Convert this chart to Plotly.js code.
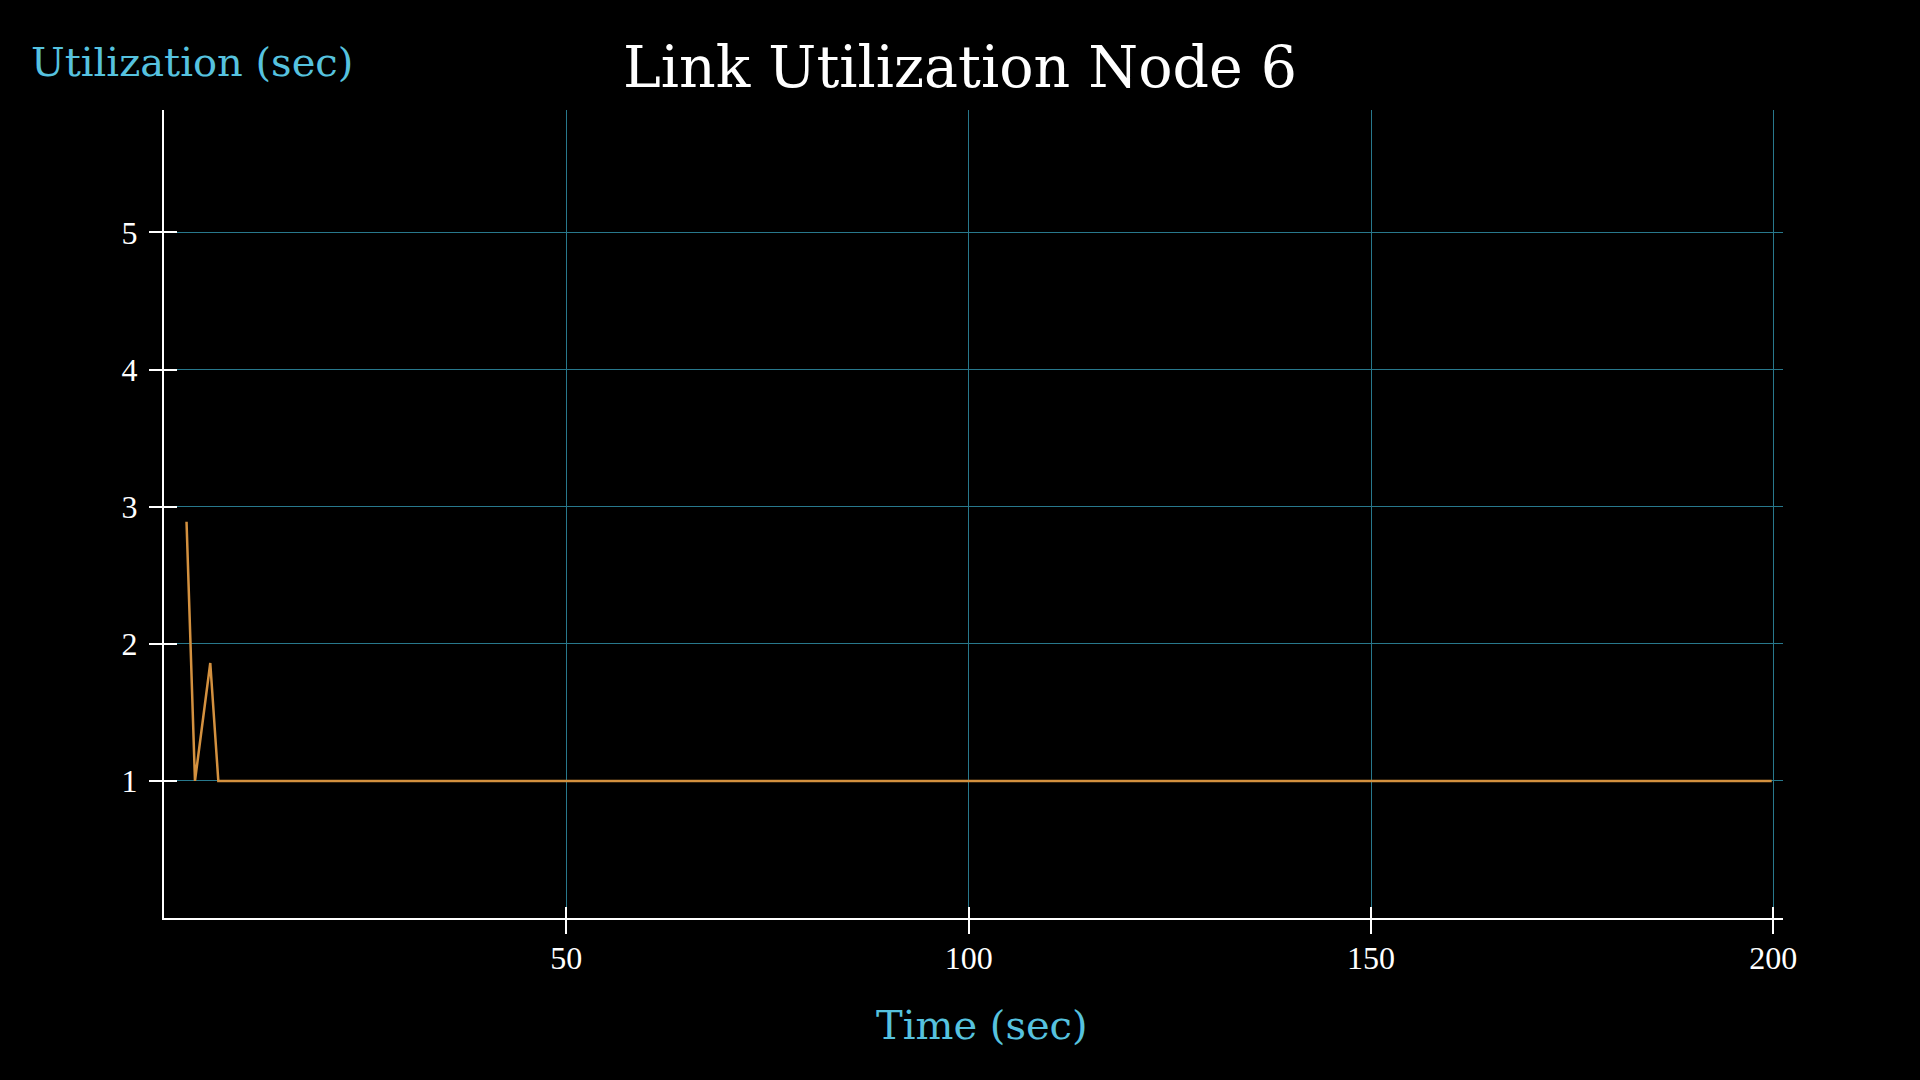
<!DOCTYPE html>
<html>
<head>
<meta charset="utf-8">
<script src="https://cdn.plot.ly/plotly-3.0.1.min.js"></script>
<style>html,body{margin:0;padding:0;background:#000;}#chart{width:1920px;height:1080px;}</style>
</head>
<body>
<div id="chart"></div>
<script>
// Data
const timeSec = [2.8, 3.85, 5.75, 6.75, 199.8];
const utilization = [2.89, 1, 1.86, 1, 1];
const xTickVals = [50, 100, 150, 200];
const xTickText = ["50", "100", "150", "200"];
const yTickVals = [1, 2, 3, 4, 5];
const yTickText = ["1", "2", "3", "4", "5"];
const chartTitle = "Link Utilization Node 6";
const xTitle = "Time (sec)";
const yTitle = "Utilization (sec)";

const xRange = [0, 201.2];
const yRange = [0, 5.893];
const gridColor = "#28788c";
const tickFont = {family: "Liberation Serif, serif", size: 32, color: "#ffffff"};
const titleColor = "#56c2df";

const traces = [
  {x: timeSec, y: utilization, type: "scatter", mode: "lines",
   line: {color: "#d4913f", width: 2.5}, xaxis: "x", yaxis: "y", hoverinfo: "x+y", showlegend: false},
  {x: [], y: [], type: "scatter", mode: "lines", xaxis: "x2", yaxis: "y2", showlegend: false}
];

const layout = {
  width: 1920, height: 1080,
  paper_bgcolor: "#000000", plot_bgcolor: "#000000",
  margin: {l: 164, r: 137, t: 110, b: 162, pad: 0},
  showlegend: false,
  title: {text: chartTitle, x: 0.5, xref: "container", xanchor: "center",
          y: 0.938, yref: "container", yanchor: "middle",
          font: {family: "DejaVu Serif, serif", size: 57, color: "#ffffff"}},
  xaxis: {range: xRange, tickvals: xTickVals, ticktext: xTickText,
          showgrid: true, gridcolor: gridColor, gridwidth: 1,
          showline: true, linecolor: "#ffffff", linewidth: 2,
          ticks: "inside", ticklen: 11, tickwidth: 2, tickcolor: "#ffffff",
          ticklabelstandoff: 11,
          tickfont: tickFont, zeroline: false},
  yaxis: {range: yRange, tickvals: yTickVals, ticktext: yTickText,
          showgrid: true, gridcolor: gridColor, gridwidth: 1,
          showline: true, linecolor: "#ffffff", linewidth: 2,
          ticks: "inside", ticklen: 13, tickwidth: 2, tickcolor: "#ffffff",
          ticklabelstandoff: 18,
          tickfont: tickFont, zeroline: false},
  xaxis2: {range: xRange, tickvals: xTickVals, overlaying: "x", anchor: "y2", side: "bottom",
           showgrid: false, showline: false, zeroline: false, showticklabels: false,
           ticks: "outside", ticklen: 15, tickwidth: 2, tickcolor: "#ffffff"},
  yaxis2: {range: yRange, tickvals: yTickVals, overlaying: "y", anchor: "x2", side: "left",
           showgrid: false, showline: false, zeroline: false, showticklabels: false,
           ticks: "outside", ticklen: 14, tickwidth: 2, tickcolor: "#ffffff"},
  annotations: [
    {text: yTitle, xref: "paper", yref: "paper", x: -0.0835, y: 1.059,
     xanchor: "left", yanchor: "middle", showarrow: false,
     font: {family: "DejaVu Serif, serif", size: 40, color: titleColor}},
    {text: xTitle, xref: "paper", yref: "paper", x: 0.5055, y: -0.1324,
     xanchor: "center", yanchor: "middle", showarrow: false,
     font: {family: "DejaVu Serif, serif", size: 40, color: titleColor}}
  ]
};

Plotly.newPlot("chart", traces, layout, {staticPlot: true, displayModeBar: false});
</script>
</body>
</html>
